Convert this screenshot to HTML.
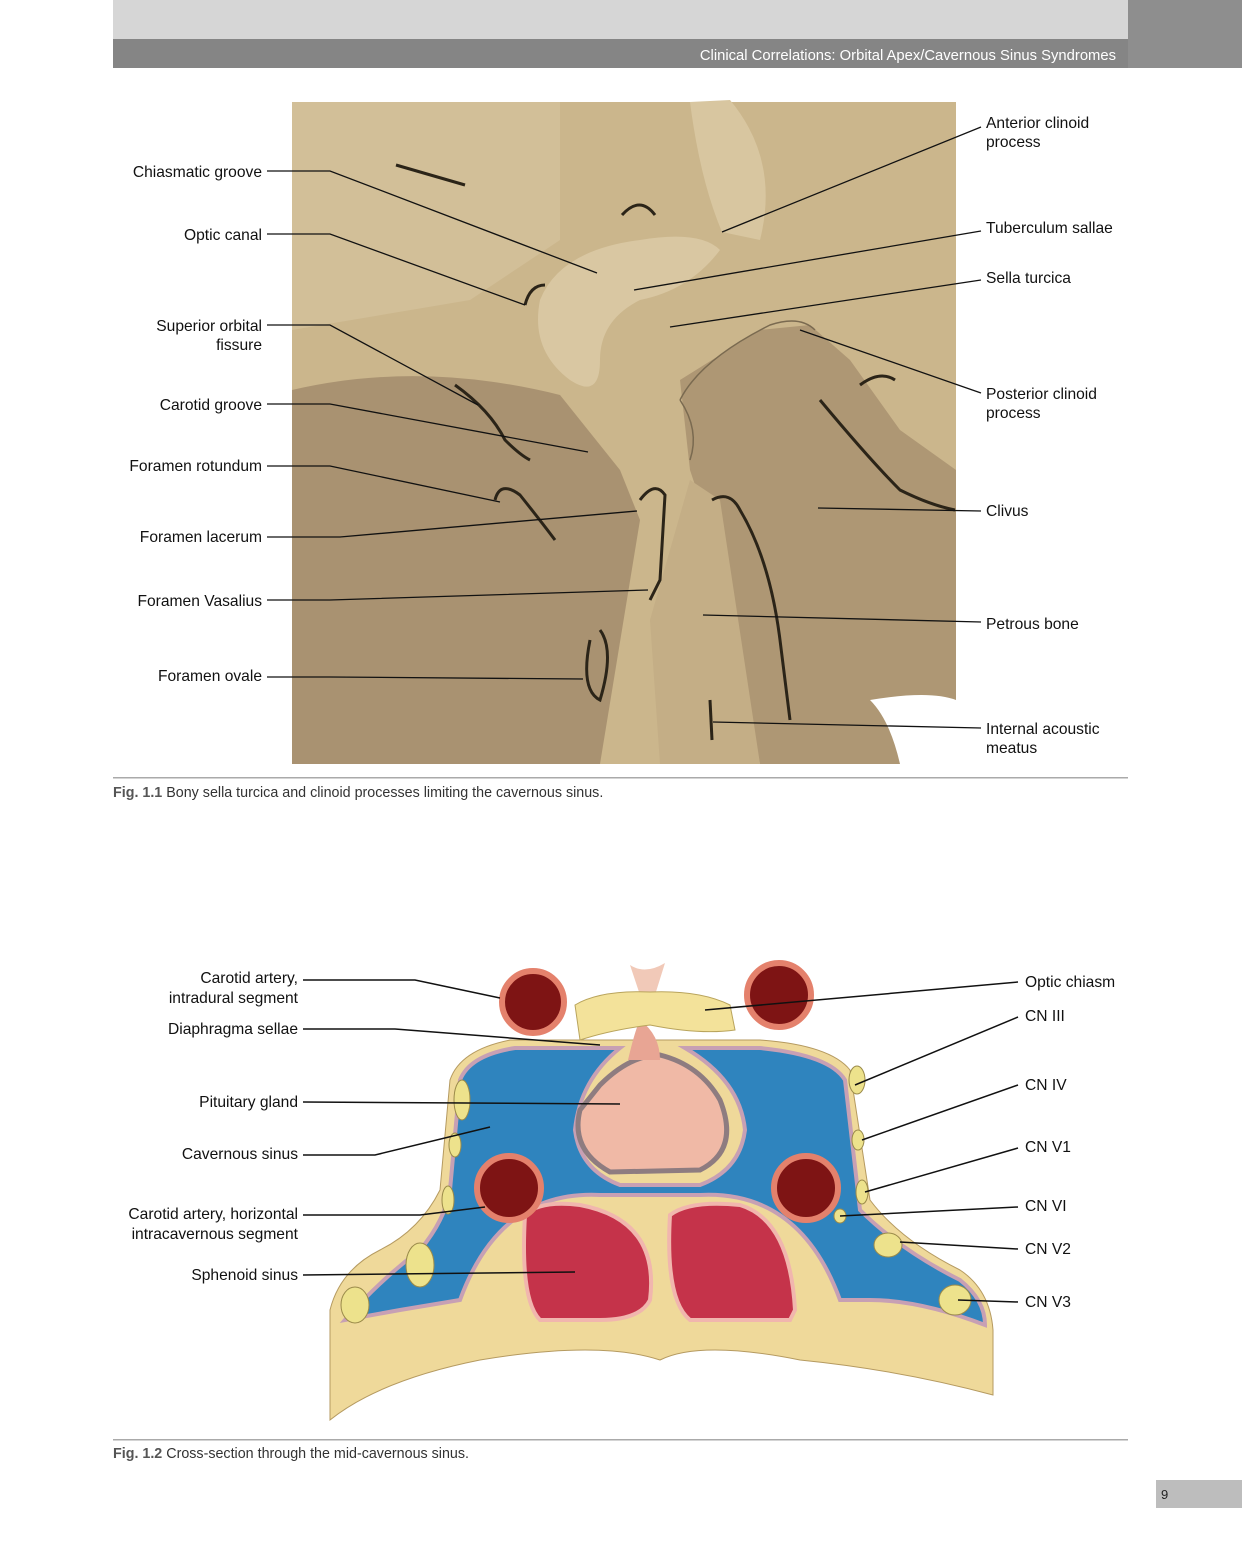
<!DOCTYPE html>
<html><head><meta charset="utf-8"><style>
html,body{margin:0;padding:0;background:#fff}
body{width:1242px;height:1565px;position:relative;overflow:hidden;font-family:"Liberation Sans",sans-serif}
svg{position:absolute;left:0;top:0}
</style></head><body>
<svg width="1242" height="1565" viewBox="0 0 1242 1565" font-family="Liberation Sans, sans-serif">
<rect x="113" y="0" width="1015" height="39" fill="#d6d6d6"/>
<rect x="113" y="39" width="1015" height="29" fill="#858585"/>
<rect x="1128" y="0" width="114" height="68" fill="#8e8e8e"/>
<text x="1116" y="60" text-anchor="end" font-size="14.8" fill="#fff">Clinical Correlations: Orbital Apex/Cavernous Sinus Syndromes</text>

<rect x="292" y="102" width="664" height="662" fill="#cbb68c"/>
<path d="M292 102 L560 102 L560 240 L470 300 L292 330 Z" fill="#d2bf98"/>
<path d="M292 390 Q420 360 560 395 L620 470 L640 520 L600 764 L292 764 Z" fill="#a99271"/>
<path d="M680 380 L760 330 L810 325 L850 360 L900 430 L956 470 L956 764 L760 764 L720 560 L690 470 Z" fill="#ae9774"/>
<path d="M690 480 L720 500 L760 764 L660 764 L650 620 Z" fill="#c4ae86"/>
<path d="M540 300 Q560 250 640 240 Q700 230 720 250 Q690 290 640 300 Q600 320 600 360 Q600 400 570 380 Q530 350 540 300 Z" fill="#d9c7a2"/>
<path d="M730 100 Q780 160 760 240 L722 232 Q700 180 690 102 Z" fill="#d8c6a0"/>
<path d="M870 700 Q930 690 956 700 L956 764 L900 764 Q890 720 870 700 Z" fill="#ffffff"/>
<g fill="none" stroke="#2b2418" stroke-width="3">
<path d="M622 215 Q640 195 655 215"/>
<path d="M525 305 Q530 285 545 285"/>
<path d="M455 385 Q490 410 505 440 Q520 455 530 460"/>
<path d="M495 500 Q500 480 520 495 Q540 520 555 540"/>
<path d="M640 500 Q655 480 665 495 L660 580 L650 600"/>
<path d="M590 640 Q580 690 600 700 Q615 650 600 630"/>
<path d="M712 500 Q730 490 740 510 Q770 560 780 640 L790 720"/>
<path d="M820 400 Q870 460 900 490 Q930 505 955 510"/>
<path d="M860 385 Q880 370 895 380"/>
<path d="M710 700 L712 740"/>
<path d="M396 165 Q430 175 465 185"/>
</g>
<g fill="none" stroke="#7a6a50" stroke-width="1.5">
<path d="M680 400 Q700 360 770 325 Q800 315 815 330"/>
<path d="M680 400 Q700 430 690 460"/>
</g>

<g fill="none" stroke="#111" stroke-width="1.3">
<path d="M267 171 H330 L597 273"/>
<path d="M267 234 H330 L525 305"/>
<path d="M267 325 H330 L478 405"/>
<path d="M267 404 H330 L588 452"/>
<path d="M267 466 H330 L500 502"/>
<path d="M267 537 H340 L637 511"/>
<path d="M267 600 H330 L648 590"/>
<path d="M267 677 H330 L583 679"/>
<path d="M981 127 L722 232"/>
<path d="M981 231 L634 290"/>
<path d="M981 280 L670 327"/>
<path d="M981 393 L800 330"/>
<path d="M981 511 L818 508"/>
<path d="M981 622 L703 615"/>
<path d="M981 728 L713 722"/>
</g>
<g font-size="15.6" fill="#111" text-anchor="end">
<text x="262" y="177">Chiasmatic groove</text>
<text x="262" y="240">Optic canal</text>
<text x="262" y="331">Superior orbital</text>
<text x="262" y="350">fissure</text>
<text x="262" y="410">Carotid groove</text>
<text x="262" y="471">Foramen rotundum</text>
<text x="262" y="542">Foramen lacerum</text>
<text x="262" y="606">Foramen Vasalius</text>
<text x="262" y="681">Foramen ovale</text>
</g>
<g font-size="15.6" fill="#111">
<text x="986" y="128">Anterior clinoid</text>
<text x="986" y="147">process</text>
<text x="986" y="233">Tuberculum sallae</text>
<text x="986" y="283">Sella turcica</text>
<text x="986" y="399">Posterior clinoid</text>
<text x="986" y="418">process</text>
<text x="986" y="516">Clivus</text>
<text x="986" y="629">Petrous bone</text>
<text x="986" y="734">Internal acoustic</text>
<text x="986" y="753">meatus</text>
</g>
<rect x="113" y="777" width="1015" height="1.5" fill="#aaa"/>
<text x="113" y="797" font-size="14.3" fill="#333"><tspan font-weight="bold" fill="#555">Fig. 1.1</tspan>  Bony sella turcica and clinoid processes limiting the cavernous sinus.</text>

<path d="M330 1310 Q340 1270 380 1250 Q420 1230 440 1190 L450 1080 Q460 1050 510 1040 L620 1040 L660 1040 L760 1040 Q830 1045 850 1070 L870 1200 Q900 1240 960 1270 Q990 1290 993 1330 L993 1395 Q900 1370 800 1360 Q700 1340 660 1360 Q600 1340 480 1360 Q380 1380 330 1420 Z" fill="#efd99a" stroke="#b59a60"/>
<path d="M345 1320 Q380 1280 420 1250 Q445 1220 450 1190 L460 1080 Q470 1055 515 1048 L620 1048 Q580 1080 575 1130 Q580 1170 620 1185 L700 1185 Q740 1170 745 1130 Q740 1080 685 1048 L760 1048 Q830 1055 845 1080 L860 1210 Q900 1250 960 1280 Q985 1300 985 1325 Q920 1300 870 1300 L840 1300 Q800 1190 700 1195 L600 1195 Q500 1190 460 1300 L400 1310 Z" fill="#2f84be" stroke="#c7a0b4" stroke-width="4"/>
<path d="M600 1085 Q630 1055 660 1055 Q700 1065 720 1100 Q740 1150 700 1170 L610 1172 Q570 1150 580 1110 Z" fill="#f0b9a6" stroke="#8e7c80" stroke-width="5"/>
<path d="M628 1060 Q635 1030 640 1020 Q660 1035 660 1060 Z" fill="#e8a594"/>
<path d="M630 965 Q645 975 665 963 L655 995 L640 995 Z" fill="#f1c9b8"/>
<path d="M575 1005 Q600 990 650 992 Q700 990 730 1005 L735 1030 Q700 1035 650 1025 Q610 1030 580 1040 Z" fill="#f3e29a" stroke="#b9a45c"/>
<path d="M525 1215 Q540 1200 580 1205 Q660 1220 650 1300 Q640 1320 600 1320 L540 1320 Q520 1300 525 1215 Z" fill="#c5334a" stroke="#f1b6ae" stroke-width="4"/>
<path d="M670 1215 Q690 1200 740 1205 Q790 1220 795 1310 L790 1320 L690 1320 Q665 1300 670 1215 Z" fill="#c5334a" stroke="#f1b6ae" stroke-width="4"/>
<g stroke="#e4816c" stroke-width="6" fill="#7e1414">
<circle cx="533" cy="1002" r="31"/>
<circle cx="779" cy="995" r="32"/>
<circle cx="509" cy="1188" r="32"/>
<circle cx="806" cy="1188" r="32"/>
</g>
<g fill="#ede28c" stroke="#9a8a4a">
<ellipse cx="462" cy="1100" rx="8" ry="20"/>
<ellipse cx="857" cy="1080" rx="8" ry="14"/>
<ellipse cx="858" cy="1140" rx="6" ry="10"/>
<ellipse cx="862" cy="1192" rx="6" ry="12"/>
<ellipse cx="840" cy="1216" rx="6" ry="7"/>
<ellipse cx="455" cy="1145" rx="6" ry="12"/>
<ellipse cx="448" cy="1200" rx="6" ry="14"/>
<ellipse cx="420" cy="1265" rx="14" ry="22"/>
<ellipse cx="355" cy="1305" rx="14" ry="18"/>
<ellipse cx="888" cy="1245" rx="14" ry="12"/>
<ellipse cx="955" cy="1300" rx="16" ry="15"/>
</g>

<g fill="none" stroke="#111" stroke-width="1.5">
<path d="M303 980 H415 L500 998"/>
<path d="M303 1029 H395 L600 1045"/>
<path d="M303 1102 L620 1104"/>
<path d="M303 1155 H375 L490 1127"/>
<path d="M303 1215 H420 L485 1207"/>
<path d="M303 1275 L575 1272"/>
<path d="M1018 982 L705 1010"/>
<path d="M1018 1017 L855 1085"/>
<path d="M1018 1085 L862 1140"/>
<path d="M1018 1148 L865 1192"/>
<path d="M1018 1207 L840 1216"/>
<path d="M1018 1249 L900 1242"/>
<path d="M1018 1302 L958 1300"/>
</g>
<g font-size="15.6" fill="#111" text-anchor="end">
<text x="298" y="983">Carotid artery,</text>
<text x="298" y="1003">intradural segment</text>
<text x="298" y="1034">Diaphragma sellae</text>
<text x="298" y="1107">Pituitary gland</text>
<text x="298" y="1159">Cavernous sinus</text>
<text x="298" y="1219">Carotid artery, horizontal</text>
<text x="298" y="1239">intracavernous segment</text>
<text x="298" y="1280">Sphenoid sinus</text>
</g>
<g font-size="15.6" fill="#111">
<text x="1025" y="987">Optic chiasm</text>
<text x="1025" y="1021">CN III</text>
<text x="1025" y="1090">CN IV</text>
<text x="1025" y="1152">CN V1</text>
<text x="1025" y="1211">CN VI</text>
<text x="1025" y="1254">CN V2</text>
<text x="1025" y="1307">CN V3</text>
</g>
<rect x="113" y="1439" width="1015" height="1.5" fill="#aaa"/>
<text x="113" y="1458" font-size="14.3" fill="#333"><tspan font-weight="bold" fill="#555">Fig. 1.2</tspan>  Cross-section through the mid-cavernous sinus.</text>

<rect x="1156" y="1480" width="86" height="28" fill="#bdbdbd"/>
<text x="1161" y="1499" font-size="13" fill="#222">9</text>
</svg>
</body></html>
